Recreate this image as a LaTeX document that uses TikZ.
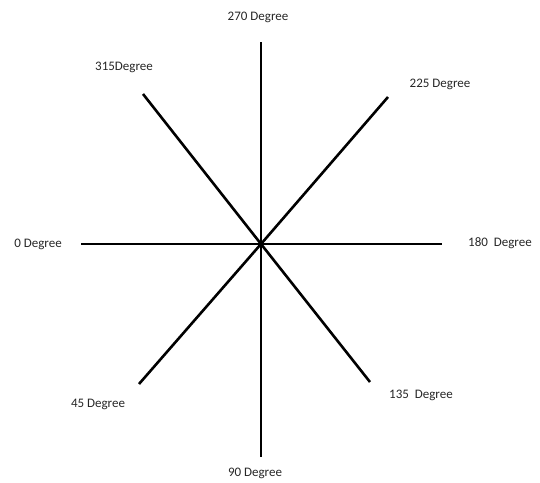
\documentclass[tikz,border=0pt]{standalone}
\usepackage{fontspec}
\setmainfont{Carlito}
\begin{document}
\begin{tikzpicture}[x=1pt, y=-1pt,
    ray/.style={line width=2.6pt},
    deg/.style={font=\fontsize{13}{15}\selectfont, text=black!85, inner sep=0pt}]
    \useasboundingbox (0,0) rectangle (540,482);

    \coordinate (O) at (261,244);
    \coordinate (N) at (261,42);
    \coordinate (S) at (261,457);
    \coordinate (W) at (81,244);
    \coordinate (E) at (442,244);
    \coordinate (NW) at (143,94);
    \coordinate (SE) at (370,382);
    \coordinate (NE) at (388,97);
    \coordinate (SW) at (139,384);

    \draw[ray] (N) -- (O) -- (S);
    \draw[ray] (W) -- (O) -- (E);
    \draw[ray] (NW) -- (O) -- (SE);
    \draw[ray] (NE) -- (O) -- (SW);

    \node[deg] (d270) at (258,17) {270 Degree};
    \node[deg] (d315) at (124,67) {315Degree};
    \node[deg] (d225) at (440,84) {225 Degree};
    \node[deg] (d0) at (38,244) {0 Degree};
    \node[deg] (d180) at (500,243) {180~~Degree};
    \node[deg] (d45) at (98,404) {45 Degree};
    \node[deg] (d135) at (421,395) {135~~Degree};
    \node[deg] (d90) at (255,473) {90 Degree};
\end{tikzpicture}
\end{document}
